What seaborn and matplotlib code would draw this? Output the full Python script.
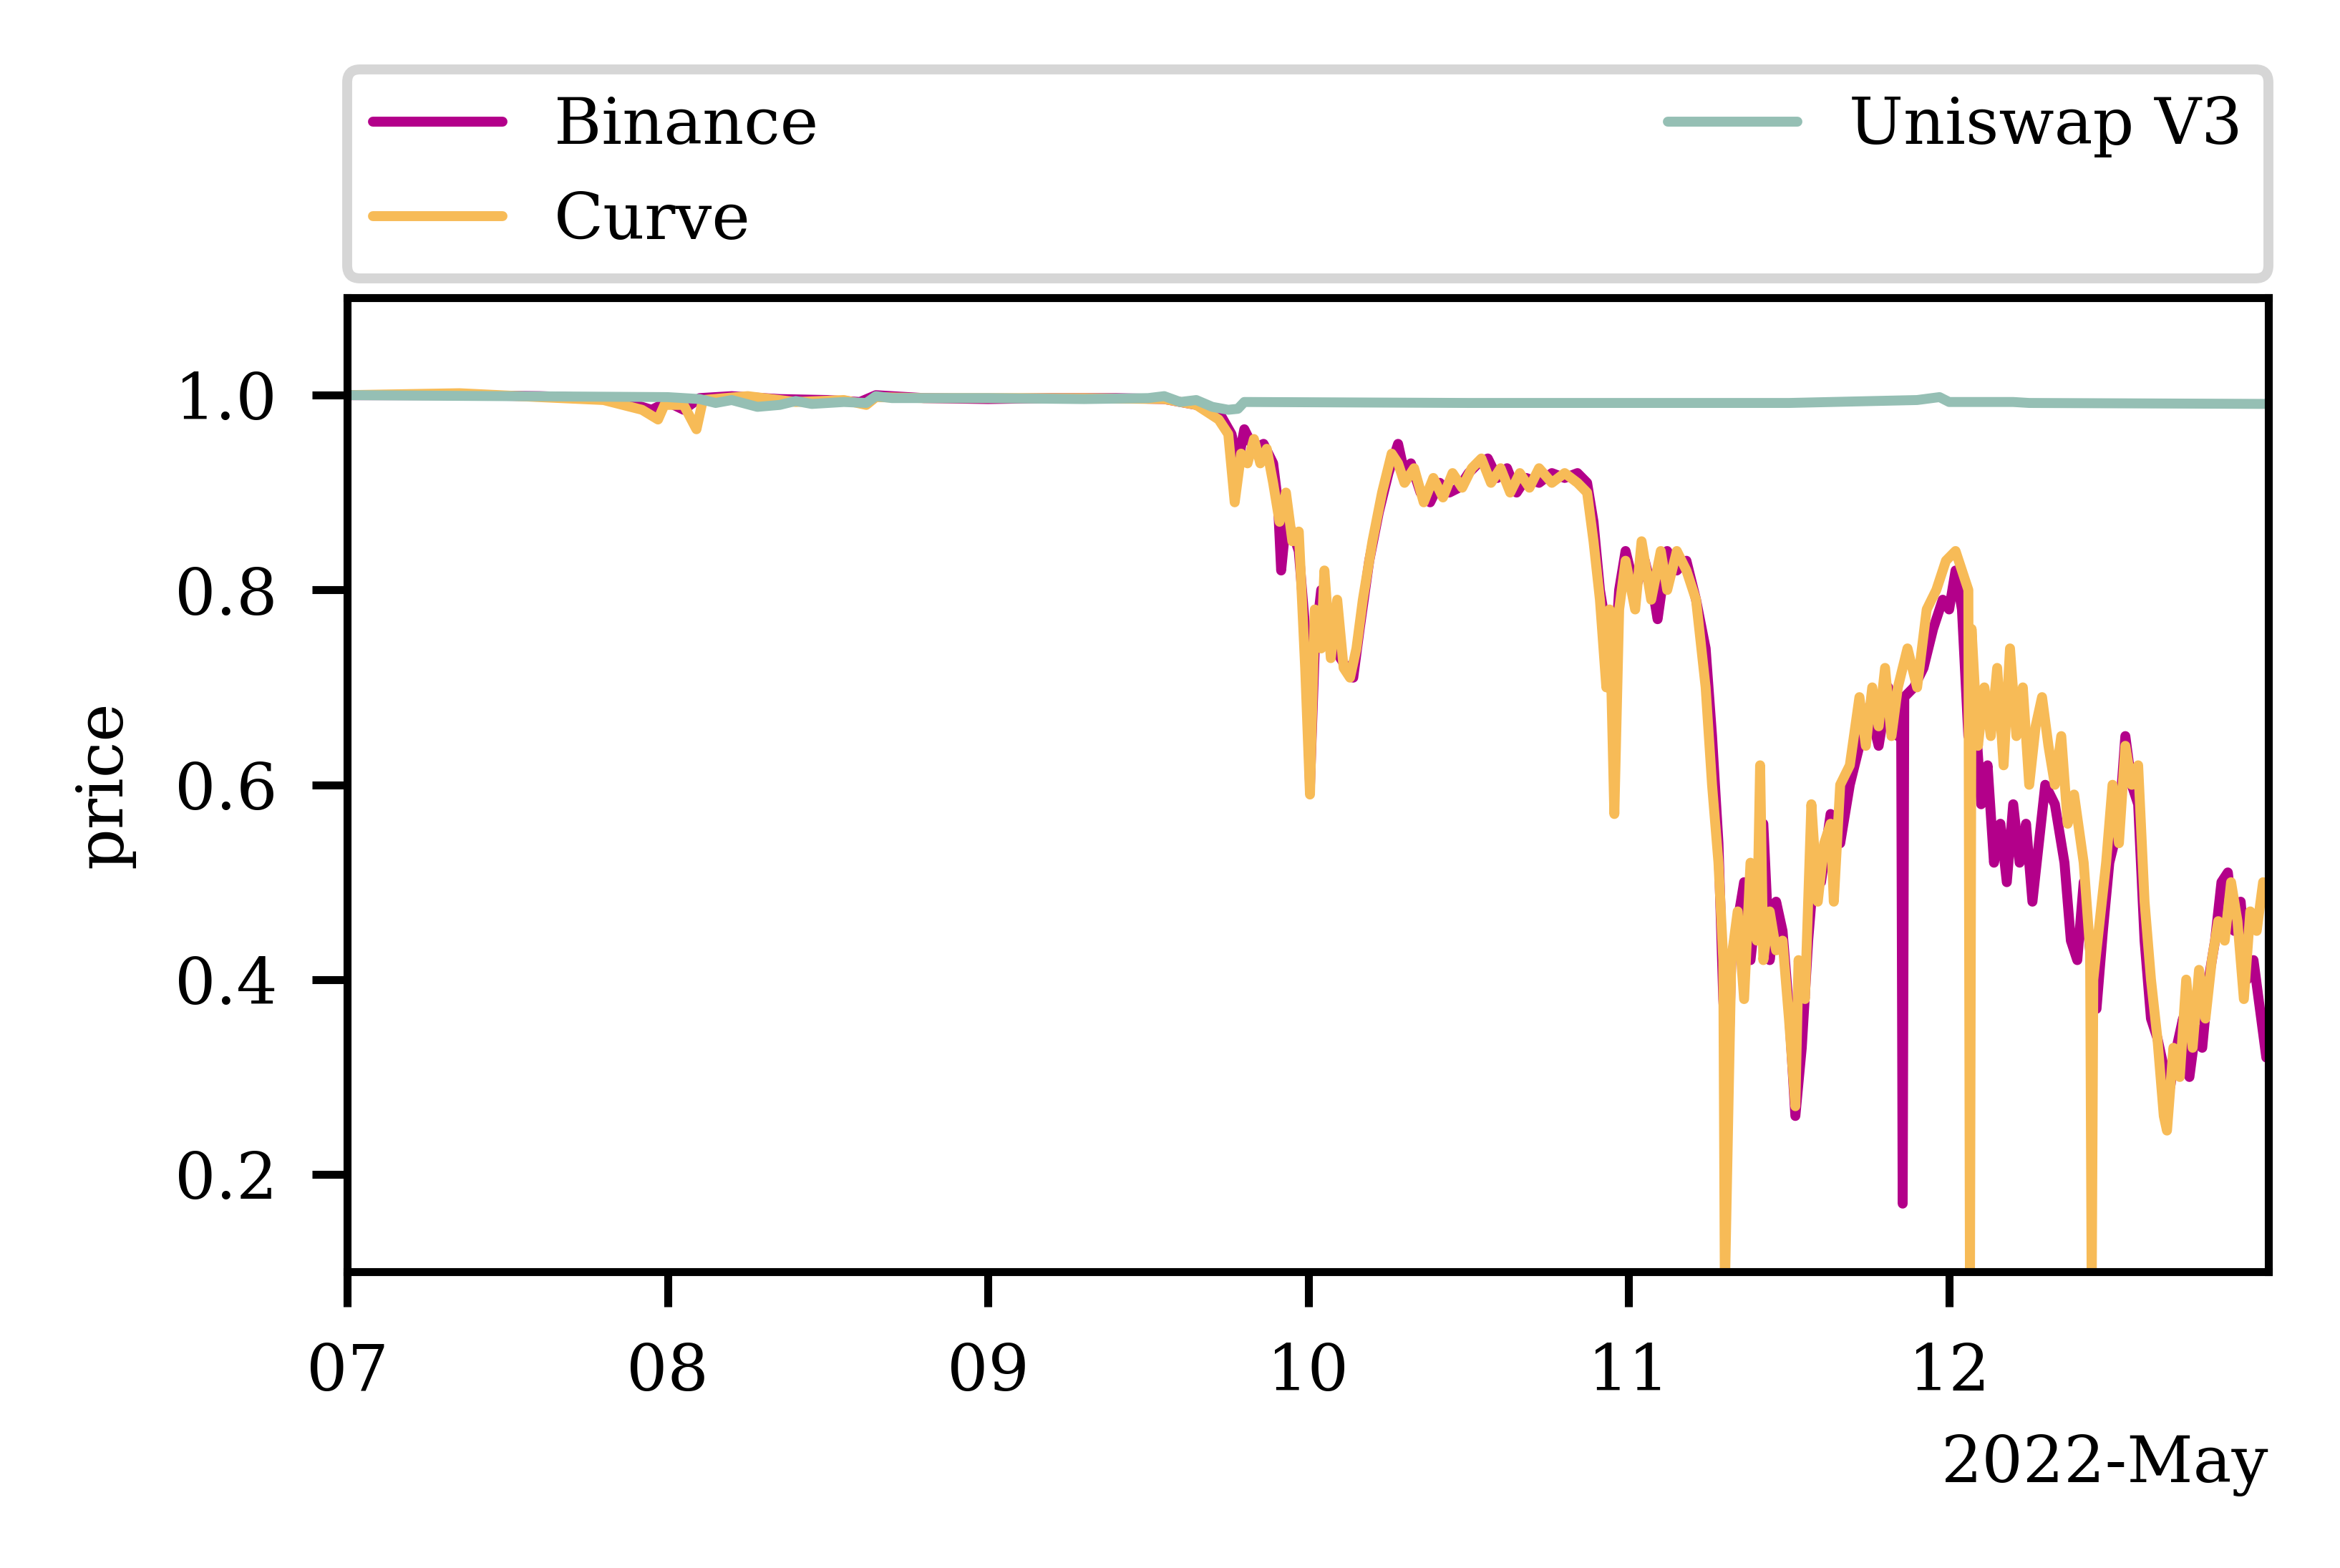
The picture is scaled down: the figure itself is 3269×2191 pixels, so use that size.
import pandas as pd
import matplotlib
matplotlib.use("Agg")
import matplotlib.pyplot as plt
import matplotlib.dates as mdates
import seaborn as sns

# day-of-month (fractional) and price
binance_day = [7.00, 7.30, 7.60, 7.80, 7.90, 7.95, 8.00, 8.05, 8.10, 8.20, 8.35, 8.50, 8.60, 8.65, 8.80,
               9.00, 9.20, 9.40, 9.55, 9.65, 9.72, 9.76, 9.78, 9.80, 9.83, 9.86, 9.89, 9.905, 9.915, 9.93,
               9.95, 9.97, 9.99, 10.005, 10.02, 10.04, 10.06, 10.08, 10.10, 10.12, 10.14, 10.16, 10.19,
               10.22, 10.25, 10.28, 10.30, 10.32, 10.35, 10.38, 10.41, 10.44, 10.47, 10.50, 10.53, 10.56,
               10.59, 10.62, 10.65, 10.68, 10.72, 10.76, 10.80, 10.84, 10.87, 10.89, 10.91, 10.93, 10.95,
               10.97, 10.99, 11.02, 11.05, 11.08, 11.09, 11.12, 11.15, 11.18, 11.21, 11.24, 11.26, 11.28,
               11.295, 11.31, 11.32, 11.34, 11.36, 11.38, 11.40, 11.42, 11.44, 11.46, 11.48, 11.50, 11.52,
               11.54, 11.56, 11.58, 11.60, 11.63, 11.66, 11.69, 11.72, 11.75, 11.78, 11.81, 11.84, 11.85,
               11.855, 11.86, 11.89, 11.92, 11.95, 11.98, 12.00, 12.02, 12.04, 12.06, 12.08, 12.10, 12.12,
               12.14, 12.16, 12.18, 12.20, 12.22, 12.24, 12.26, 12.28, 12.30, 12.33, 12.36, 12.38, 12.40,
               12.42, 12.44, 12.46, 12.48, 12.50, 12.53, 12.55, 12.57, 12.59, 12.61, 12.63, 12.65, 12.67,
               12.69, 12.71, 12.73, 12.75, 12.77, 12.79, 12.81, 12.83, 12.85, 12.87, 12.89, 12.91, 12.93,
               12.95, 12.97, 12.99]
binance_price = [1.000, 1.000, 0.999, 0.997, 0.990, 0.985, 0.993, 0.985, 0.997, 0.999, 0.996, 0.995, 0.993,
                 1.000, 0.997, 0.996, 0.997, 0.997, 0.996, 0.990, 0.983, 0.960, 0.930, 0.965, 0.945, 0.950,
                 0.930, 0.890, 0.820, 0.870, 0.860, 0.840, 0.760, 0.600, 0.740, 0.800, 0.760, 0.780, 0.730,
                 0.720, 0.710, 0.760, 0.830, 0.880, 0.920, 0.950, 0.920, 0.930, 0.900, 0.890, 0.910, 0.900,
                 0.905, 0.920, 0.930, 0.935, 0.915, 0.925, 0.900, 0.915, 0.910, 0.920, 0.915, 0.920, 0.910,
                 0.870, 0.800, 0.760, 0.700, 0.800, 0.840, 0.800, 0.830, 0.790, 0.770, 0.840, 0.820, 0.830,
                 0.790, 0.740, 0.650, 0.540, 0.380, 0.300, 0.420, 0.460, 0.500, 0.420, 0.480, 0.560, 0.420,
                 0.480, 0.450, 0.370, 0.260, 0.330, 0.440, 0.520, 0.500, 0.570, 0.540, 0.600, 0.640, 0.680,
                 0.640, 0.700, 0.650, 0.690, 0.170, 0.690, 0.700, 0.720, 0.760, 0.790, 0.780, 0.820, 0.780,
                 0.650, 0.680, 0.580, 0.620, 0.520, 0.560, 0.500, 0.580, 0.520, 0.560, 0.480, 0.540, 0.600,
                 0.580, 0.520, 0.440, 0.420, 0.500, 0.430, 0.370, 0.450, 0.520, 0.560, 0.650, 0.600, 0.580,
                 0.440, 0.360, 0.340, 0.310, 0.290, 0.330, 0.360, 0.300, 0.350, 0.330, 0.400, 0.440, 0.500,
                 0.510, 0.450, 0.480, 0.400, 0.420, 0.370, 0.320]

curve_day = [7.00, 7.35, 7.60, 7.80, 7.92, 7.97, 7.99, 8.05, 8.09, 8.11, 8.25, 8.40, 8.55, 8.62, 8.65,
             8.80, 9.00, 9.30, 9.55, 9.65, 9.72, 9.75, 9.77, 9.79, 9.81, 9.83, 9.85, 9.87, 9.89, 9.91,
             9.93, 9.95, 9.97, 9.99, 10.005, 10.02, 10.04, 10.05, 10.07, 10.09, 10.11, 10.13, 10.15,
             10.17, 10.20, 10.23, 10.26, 10.28, 10.30, 10.33, 10.36, 10.39, 10.42, 10.45, 10.48, 10.51,
             10.54, 10.57, 10.60, 10.63, 10.66, 10.69, 10.72, 10.76, 10.80, 10.84, 10.87, 10.89, 10.91,
             10.93, 10.94, 10.955, 10.97, 10.99, 11.02, 11.04, 11.07, 11.10, 11.12, 11.15, 11.18, 11.21,
             11.24, 11.26, 11.28, 11.295, 11.30, 11.31, 11.32, 11.34, 11.36, 11.38, 11.40, 11.41, 11.42,
             11.44, 11.46, 11.48, 11.50, 11.52, 11.53, 11.55, 11.57, 11.59, 11.61, 11.63, 11.64, 11.66,
             11.69, 11.72, 11.74, 11.76, 11.78, 11.80, 11.82, 11.84, 11.87, 11.90, 11.93, 11.96, 11.99,
             12.02, 12.05, 12.06, 12.065, 12.07, 12.09, 12.11, 12.13, 12.15, 12.17, 12.19, 12.21, 12.23,
             12.25, 12.27, 12.29, 12.31, 12.33, 12.35, 12.37, 12.39, 12.42, 12.44, 12.445, 12.45, 12.47,
             12.49, 12.51, 12.53, 12.55, 12.57, 12.59, 12.61, 12.63, 12.65, 12.67, 12.68, 12.70, 12.72,
             12.74, 12.76, 12.78, 12.80, 12.82, 12.84, 12.86, 12.88, 12.90, 12.92, 12.94, 12.96, 12.98,
             12.995]
curve_price = [1.000, 1.002, 0.998, 0.995, 0.985, 0.975, 0.990, 0.990, 0.965, 0.995, 0.999, 0.993, 0.995,
               0.990, 0.998, 0.997, 0.997, 0.997, 0.996, 0.990, 0.975, 0.960, 0.890, 0.940, 0.930, 0.955,
               0.930, 0.945, 0.910, 0.870, 0.900, 0.850, 0.860, 0.720, 0.590, 0.780, 0.740, 0.820, 0.730,
               0.790, 0.720, 0.710, 0.740, 0.790, 0.850, 0.900, 0.940, 0.930, 0.910, 0.925, 0.890, 0.915,
               0.895, 0.920, 0.905, 0.925, 0.935, 0.910, 0.925, 0.900, 0.920, 0.905, 0.925, 0.910, 0.920,
               0.910, 0.900, 0.850, 0.790, 0.700, 0.780, 0.570, 0.780, 0.830, 0.780, 0.850, 0.790, 0.840,
               0.800, 0.840, 0.820, 0.790, 0.700, 0.600, 0.520, 0.420, 0.080, 0.250, 0.420, 0.470, 0.380,
               0.520, 0.440, 0.620, 0.420, 0.470, 0.430, 0.440, 0.360, 0.270, 0.420, 0.380, 0.580, 0.480,
               0.540, 0.560, 0.480, 0.600, 0.620, 0.690, 0.640, 0.700, 0.660, 0.720, 0.650, 0.700, 0.740,
               0.700, 0.780, 0.800, 0.830, 0.840, 0.810, 0.800, 0.080, 0.760, 0.640, 0.700, 0.650, 0.720,
               0.620, 0.740, 0.650, 0.700, 0.600, 0.660, 0.690, 0.640, 0.600, 0.650, 0.560, 0.590, 0.520,
               0.430, 0.080, 0.400, 0.460, 0.520, 0.600, 0.540, 0.640, 0.600, 0.620, 0.480, 0.400, 0.340,
               0.260, 0.245, 0.330, 0.300, 0.400, 0.330, 0.410, 0.360, 0.420, 0.460, 0.440, 0.500, 0.460,
               0.380, 0.470, 0.450, 0.500, 0.490]

uniswap_day = [7.00, 7.50, 8.00, 8.10, 8.15, 8.20, 8.28, 8.35, 8.40, 8.45, 8.55, 8.62, 8.65, 8.70, 9.00,
               9.30, 9.50, 9.55, 9.60, 9.65, 9.70, 9.75, 9.78, 9.80, 10.50, 11.50, 11.90, 11.97, 12.00,
               12.20, 12.25, 12.995]
uniswap_price = [1.000, 0.999, 0.998, 0.996, 0.992, 0.995, 0.988, 0.990, 0.994, 0.991, 0.993, 0.992, 0.999,
                 0.997, 0.997, 0.996, 0.997, 0.999, 0.993, 0.995, 0.988, 0.985, 0.986, 0.993, 0.992, 0.992,
                 0.995, 0.998, 0.993, 0.993, 0.992, 0.991]

exchanges = ["Binance", "Curve", "Uniswap V3"]
colors = {"Binance": "#b3008a", "Curve": "#f7bb57", "Uniswap V3": "#95bfb4"}


def to_frame(days, prices, name):
    t = pd.Timestamp("2022-05-07") + pd.to_timedelta([d - 7 for d in days], unit="D")
    return pd.DataFrame({"time": t, "price": prices, "exchange": name})


df = pd.concat([to_frame(binance_day, binance_price, "Binance"),
                to_frame(curve_day, curve_price, "Curve"),
                to_frame(uniswap_day, uniswap_price, "Uniswap V3")], ignore_index=True)

sns.set_style("ticks")
plt.rcParams.update({
    "font.family": "serif",
    "font.serif": ["DejaVu Serif"],
    "font.size": 6.5,
    "axes.labelsize": 6.5,
    "xtick.labelsize": 6.5,
    "ytick.labelsize": 6.5,
    "legend.fontsize": 6.5,
    "axes.edgecolor": "black",
    "axes.linewidth": 0.8,
    "xtick.color": "black",
    "ytick.color": "black",
    "text.color": "black",
    "axes.labelcolor": "black",
    "xtick.major.size": 3.5,
    "ytick.major.size": 3.5,
    "xtick.major.width": 0.8,
    "ytick.major.width": 0.8,
})

fig, ax = plt.subplots(figsize=(3.269, 2.191), dpi=1000)
fig.subplots_adjust(left=0.1484, right=0.9694, bottom=0.1889, top=0.8101)

sns.lineplot(data=df, x="time", y="price", hue="exchange", hue_order=exchanges,
             palette=colors, estimator=None, linewidth=1.0, ax=ax)

# data ends just before midnight on the 13th, so no "13" tick
ax.set_xlim(pd.Timestamp("2022-05-07"), pd.Timestamp("2022-05-12 23:55"))
ax.set_ylim(0.1, 1.1)
ax.set_yticks([0.2, 0.4, 0.6, 0.8, 1.0])
locator = mdates.DayLocator()
ax.xaxis.set_major_locator(locator)
ax.xaxis.set_major_formatter(mdates.ConciseDateFormatter(locator))
ax.set_xlabel("")
ax.set_ylabel("price")

handles, labels = ax.get_legend_handles_labels()
ax.legend(handles, labels, loc="lower left", bbox_to_anchor=(0, 1.02, 1, 0.2),
          ncol=2, mode="expand", borderaxespad=0)

fig.savefig("out.png", dpi=1000)
